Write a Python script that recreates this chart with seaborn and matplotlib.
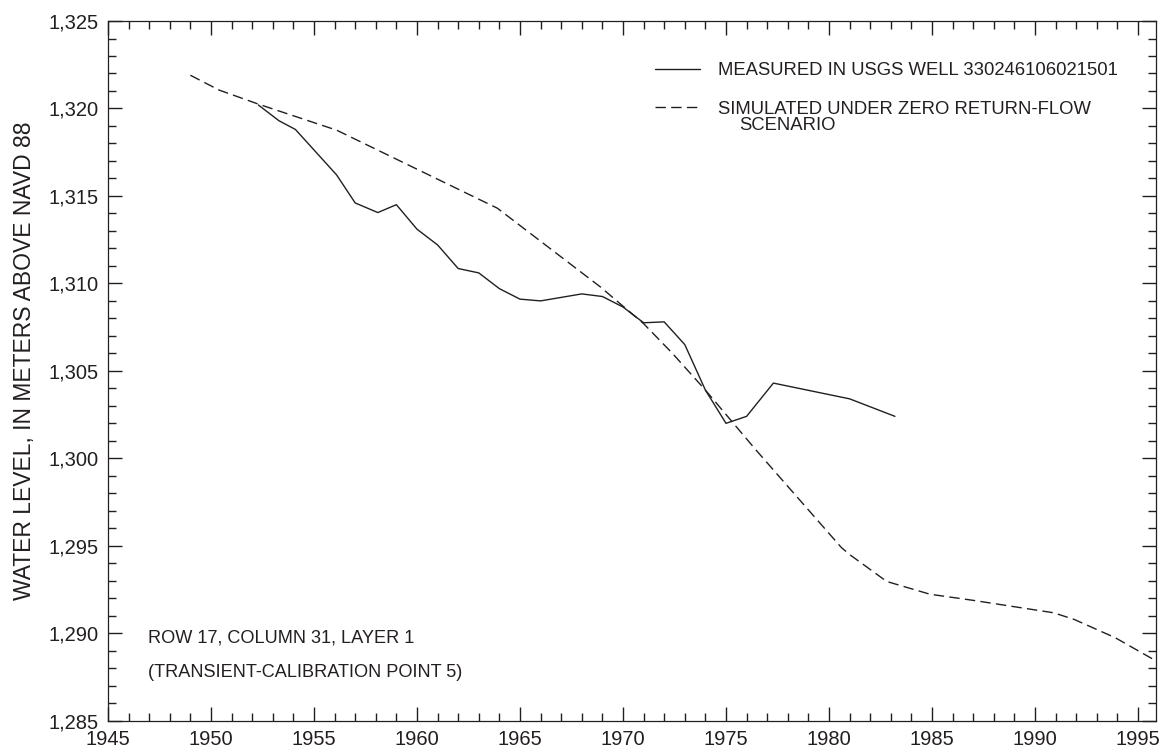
import matplotlib
matplotlib.use("Agg")
import matplotlib.pyplot as plt
from matplotlib.ticker import MultipleLocator, FuncFormatter
import seaborn as sns

# Water level measured in the observation well
measured_years = [1952.3, 1953.3, 1954.1, 1956.1, 1957.0, 1958.1, 1959.0, 1960.0,
                  1961.0, 1962.0, 1963.0, 1964.0, 1965.0, 1966.0, 1968.0, 1969.0,
                  1970.0, 1971.0, 1972.0, 1973.0, 1974.0, 1975.0, 1976.0, 1977.3,
                  1981.0, 1983.2]
measured_levels = [1320.2, 1319.3, 1318.8, 1316.2, 1314.6, 1314.05, 1314.5, 1313.1,
                   1312.2, 1310.85, 1310.6, 1309.7, 1309.1, 1309.0, 1309.4, 1309.25,
                   1308.65, 1307.75, 1307.8, 1306.5, 1303.9, 1302.0, 1302.4, 1304.3,
                   1303.4, 1302.4]

# Simulated water level, zero return-flow scenario
simulated_years = [1949.0, 1950.4, 1952.3, 1956.1, 1963.9, 1968.9, 1971.0, 1972.4,
                   1974.0, 1976.4, 1978.1, 1980.6, 1981.0, 1982.8, 1984.9, 1987.0,
                   1990.9, 1991.9, 1993.9, 1995.9]
simulated_levels = [1321.9, 1321.05, 1320.25, 1318.76, 1314.3, 1309.8, 1307.7, 1306.0,
                    1303.9, 1300.55, 1298.26, 1294.9, 1294.5, 1292.96, 1292.23, 1291.88,
                    1291.17, 1290.79, 1289.74, 1288.4]

legend_labels = ["MEASURED IN USGS WELL 330246106021501",
                 "SIMULATED UNDER ZERO RETURN-FLOW"]
legend_continuation = "SCENARIO"
site_lines = ["ROW 17, COLUMN 31, LAYER 1", "(TRANSIENT-CALIBRATION POINT 5)"]
y_label = "WATER LEVEL, IN METERS ABOVE NAVD 88"

sns.set_theme(style="ticks")
plt.rcParams["font.family"] = ["Liberation Sans", "DejaVu Sans"]
ink = "#231f20"

fig = plt.figure(figsize=(11.62, 7.48), dpi=100)
ax = fig.add_axes([0.0929, 0.0365, 0.9019, 0.9354])

sns.lineplot(x=measured_years, y=measured_levels, ax=ax, color=ink,
             linewidth=1.0, estimator=None, sort=False, legend=False)
sns.lineplot(x=simulated_years, y=simulated_levels, ax=ax, color=ink,
             linewidth=1.0, estimator=None, sort=False, legend=False,
             linestyle=(0, (7.5, 3.8)))

ax.set_xlim(1945, 1995.87)
ax.set_ylim(1285, 1325)
ax.xaxis.set_major_locator(MultipleLocator(5))
ax.xaxis.set_minor_locator(MultipleLocator(1))
ax.yaxis.set_major_locator(MultipleLocator(5))
ax.yaxis.set_minor_locator(MultipleLocator(1))
ax.yaxis.set_major_formatter(FuncFormatter(lambda v, _: f"{v:,.0f}"))

for side in ["left", "right", "top", "bottom"]:
    ax.spines[side].set_visible(True)
    ax.spines[side].set_color(ink)
    ax.spines[side].set_linewidth(0.9)

ax.tick_params(which="both", direction="in", top=True, right=True,
               color=ink, width=1.0, labelcolor=ink, labelsize=14.5)
ax.tick_params(which="major", length=10, pad=6.5)
ax.tick_params(which="minor", length=5.5)

ax.set_xlabel("")
ax.set_ylabel(y_label, fontsize=16.5, color=ink)
ax.yaxis.set_label_coords(-0.069, 0.515)

lines = ax.get_lines()
leg = ax.legend(handles=[lines[0], lines[1]], labels=legend_labels,
                loc="upper left", bbox_to_anchor=(0.522, 0.941),
                frameon=False, fontsize=13.3, handlelength=2.43,
                handletextpad=0.97, labelspacing=1.17, borderpad=0,
                borderaxespad=0)
for t in leg.get_texts():
    t.set_color(ink)

ax.text(0.602, 0.851, legend_continuation, transform=ax.transAxes,
        fontsize=13.3, color=ink, va="center", ha="left")

ax.text(0.0379, 0.118, site_lines[0], transform=ax.transAxes,
        fontsize=13.1, color=ink, va="center", ha="left")
ax.text(0.0379, 0.0686, site_lines[1], transform=ax.transAxes,
        fontsize=13.1, color=ink, va="center", ha="left")

fig.savefig("out.png", dpi=100)
